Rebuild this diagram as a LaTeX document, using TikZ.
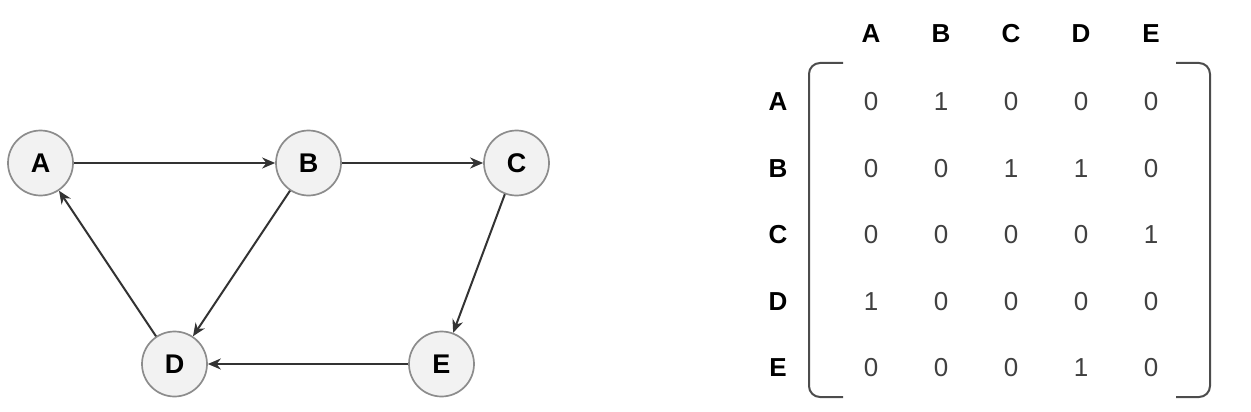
\documentclass[tikz,border=0pt]{standalone}
\usepackage{fontspec}
\setmainfont{Liberation Sans}
\usetikzlibrary{arrows.meta}
\tikzset{
  vertex/.style={circle, draw=black!45, fill=black!5, line width=1.7pt, minimum size=65pt, inner sep=0pt, font=\fontsize{27}{27}\selectfont\bfseries},
  edge/.style={draw=black!80, line width=2pt, -{Stealth[length=13pt,width=11pt]}},
  label/.style={font=\fontsize{26}{26}\selectfont\bfseries},
  entry/.style={font=\fontsize{26}{26}\selectfont, text=black!75},
  bracket/.style={draw=black!70, line width=2pt, rounded corners=11pt}
}
\begin{document}
\begin{tikzpicture}[x=1pt,y=-1pt]
\useasboundingbox (0,0) rectangle (1251,412);
% The vertices of the graph
\node[vertex] (A) at (40.5,163) {A};
\node[vertex] (B) at (308.5,163) {B};
\node[vertex] (C) at (516.5,163) {C};
\node[vertex] (D) at (174.5,364) {D};
\node[vertex] (E) at (441.5,364) {E};
% The directed edges
\draw[edge] (A) -- (B);
\draw[edge] (B) -- (C);
\draw[edge] (B) -- (D);
\draw[edge] (C) -- (E);
\draw[edge] (E) -- (D);
\draw[edge] (D) -- (A);
% Column and row labels of the matrix
\foreach \n [count=\i] in {A,B,C,D,E} {
  \node[label] (col-\n) at ({871+70*(\i-1)},34) {\n};
  \node[label] (row-\n) at (778,{102+66.5*(\i-1)}) {\n};
}
% The entries, one row at a time
\foreach \row [count=\r] in {{0,1,0,0,0},{0,0,1,1,0},{0,0,0,0,1},{1,0,0,0,0},{0,0,0,1,0}} {
  \foreach \v [count=\c] in \row {
    \node[entry] (m-\r-\c) at ({871+70*(\c-1)},{102+66.5*(\r-1)}) {\v};
  }
}
% The brackets round it
\draw[bracket] (843,63) -- (809,63) -- (809,397) -- (843,397);
\draw[bracket] (1176,63) -- (1210,63) -- (1210,397) -- (1176,397);
\end{tikzpicture}
\end{document}
